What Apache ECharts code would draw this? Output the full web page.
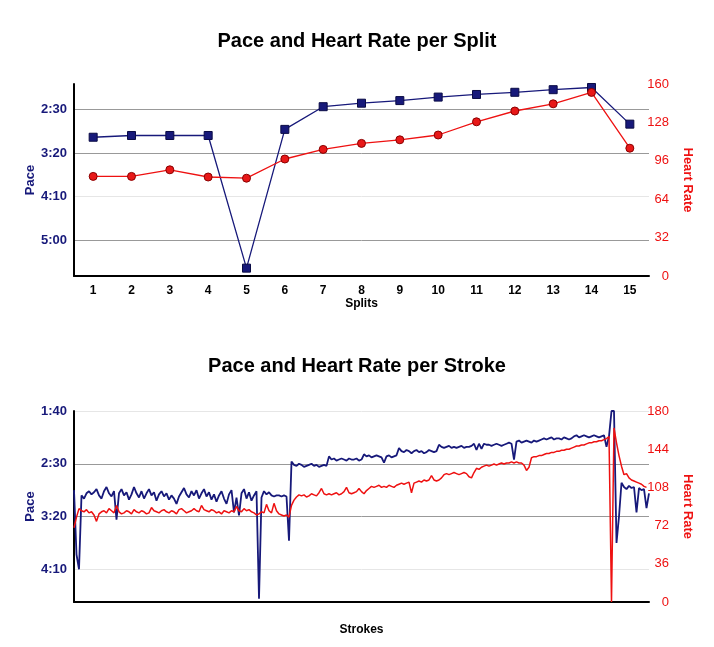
<!DOCTYPE html>
<html>
<head>
<meta charset="utf-8">
<script src="https://cdn.jsdelivr.net/npm/echarts@6/dist/echarts.min.js"></script>
<style>
html,body{margin:0;padding:0;background:#fff;}
#chart{width:714px;height:647px;}
</style>
</head>
<body>
<div id="chart"></div>
<script>
// ---- Split chart data ----
const splitLabels = ['1','2','3','4','5','6','7','8','9','10','11','12','13','14','15'];
// pace in seconds per 500m
const splitPace = [182,180,180,180,332,173,147,143,140,136,133,130.5,127.5,125,167];
const splitHR = [83,83,88.5,82.5,81.5,97.5,105.5,110.5,113.5,117.5,128.5,137.5,143.5,153,106.5];
const splitPaceTicks = [150,200,250,300];
const splitHRTicks = [0,32,64,96,128,160];

// ---- Stroke chart data ----
const strokePace = [
175,236,250,180,183,178,176,179,177,174,180,183,176,172,178,181,176,203,178,174,
180,177,184,179,172,178,182,176,183,178,174,180,177,185,179,176,181,178,184,180,
183,188,181,177,173,179,182,176,180,175,183,178,174,181,177,184,179,186,180,176,
183,188,179,175,196,182,199,178,174,183,177,185,180,176,278,182,176,179,177,180,
181,180,180,181,180,181,223,148,151,152,150,151,153,152,151,150,152,151,153,152,
151,152,143,146,145,147,146,145,146,147,145,146,146,145,147,146,141,143,142,144,
143,142,143,144,149,143,142,144,143,142,135,138,139,137,138,140,138,137,139,138,
140,139,137,138,139,138,132,134,135,134,133,135,134,135,134,133,135,134,134,133,
131,137,131,136,131,132,132,133,132,131,132,133,132,131,130,131,146,129,128,130,
129,128,129,130,128,129,128,127,126,127,126,125,127,126,126,127,125,126,127,126,
124,123,125,124,123,124,125,124,123,124,125,124,123,134,124,100,100,225,200,168,
172,174,171,173,172,196,173,175,174,192,178
];
const strokeHR = [
70,80,88,86,85,87,84,85,82,76,83,85,86,84,88,86,84,91,85,83,
84,86,85,83,87,85,84,86,85,83,84,89,86,85,84,86,87,85,84,86,
85,83,87,88,86,84,85,86,88,86,85,91,87,86,85,87,86,84,85,83,
86,85,84,86,85,90,86,85,88,86,87,85,84,82,83,85,84,92,86,84,
93,86,83,82,81,82,80,91,96,99,101,100,101,99,100,102,101,100,103,107,
102,101,102,101,102,103,101,102,104,108,103,102,103,104,107,104,102,105,107,109,
108,109,110,108,109,108,110,109,108,110,111,112,111,112,113,103,112,113,114,113,
115,114,115,119,115,114,115,117,120,121,120,121,122,121,120,121,122,121,118,117,
122,126,125,127,128,129,128,129,130,129,130,131,130,131,131,132,131,132,131,131,
129,124,127,136,137,137,138,138,139,140,140,141,141,142,142,143,143,144,144,145,
146,147,147,148,148,149,150,150,151,151,152,152,153,154,156,0,164,150,138,128,
120,121,117,115,114,113,112,111,109,108
];
const strokePaceTicks = [100,150,200,250];
const strokeHRTicks = [0,36,72,108,144,180];
const strokeIdx = strokePace.map((_, i) => String(i + 1));

const NAVY = '#17197a';
const RED = '#ee1111';
const FONT = 'Liberation Sans, Arial, Helvetica, sans-serif';

function fmtPace(v) {
  const m = Math.floor(v / 60);
  const s = Math.round(v - m * 60);
  return m + ':' + (s < 10 ? '0' + s : s);
}

const paceAxisCommon = {
  type: 'value',
  inverse: true,
  name: 'Pace',
  nameLocation: 'middle',
  nameGap: 37,
  nameMoveOverlap: false,
  nameTextStyle: { color: NAVY, fontWeight: 'bold', fontSize: 13, fontFamily: FONT },
  axisLine: { show: true, lineStyle: { color: '#000', width: 2 } },
  axisTick: { show: false },
  axisLabel: { color: NAVY, fontWeight: 'bold', fontSize: 13, fontFamily: FONT, margin: 7, formatter: fmtPace }
};
const hrAxisCommon = {
  type: 'value',
  position: 'right',
  name: 'Heart Rate',
  nameLocation: 'middle',
  nameRotate: -90,
  nameGap: 32,
  nameMoveOverlap: false,
  nameTextStyle: { color: RED, fontWeight: 'bold', fontSize: 13, fontFamily: FONT },
  axisLine: { show: false },
  axisTick: { show: false },
  splitLine: { show: false },
  axisLabel: { color: RED, fontSize: 13, fontFamily: FONT, align: 'right', margin: 20 }
};

const option = {
  backgroundColor: '#fff',
  animation: false,
  title: [
    { text: 'Pace and Heart Rate per Split', left: 'center', top: 26,
      textStyle: { fontSize: 20, fontWeight: 'bold', color: '#000', fontFamily: FONT } },
    { text: 'Pace and Heart Rate per Stroke', left: 'center', top: 351,
      textStyle: { fontSize: 20, fontWeight: 'bold', color: '#000', fontFamily: FONT } }
  ],
  grid: [
    { left: 74, right: 65, top: 84, height: 192 },
    { left: 74, right: 65, top: 411, height: 191 }
  ],
  xAxis: [
    { type: 'category', gridIndex: 0, data: splitLabels, boundaryGap: true,
      name: 'Splits', nameLocation: 'middle', nameGap: 22,
      nameTextStyle: { color: '#000', fontWeight: 'bold', fontSize: 12, fontFamily: FONT },
      axisLine: { lineStyle: { color: '#000', width: 2 } },
      axisTick: { show: false },
      axisLabel: { color: '#000', fontWeight: 'bold', fontSize: 12, fontFamily: FONT, margin: 9 } },
    { type: 'category', gridIndex: 1, data: strokeIdx, boundaryGap: false,
      name: 'Strokes', nameLocation: 'middle', nameGap: 22,
      nameTextStyle: { color: '#000', fontWeight: 'bold', fontSize: 12, fontFamily: FONT },
      axisLine: { lineStyle: { color: '#000', width: 2 } },
      axisTick: { show: false },
      axisLabel: { show: false } }
  ],
  yAxis: [
    Object.assign({}, paceAxisCommon, {
      gridIndex: 0, min: 121, max: 341,
      axisTick: { show: false, customValues: splitPaceTicks },
      axisLabel: Object.assign({}, paceAxisCommon.axisLabel, { customValues: splitPaceTicks }),
      splitLine: { show: true, lineStyle: { color: ['#999999', '#999999', '#e6e6e6', '#999999'], width: 1 } }
    }),
    Object.assign({}, hrAxisCommon, {
      gridIndex: 0, min: 0, max: 160, interval: 32
    }),
    Object.assign({}, paceAxisCommon, {
      gridIndex: 1, min: 100, max: 281,
      axisTick: { show: false, customValues: strokePaceTicks },
      axisLabel: Object.assign({}, paceAxisCommon.axisLabel, { customValues: strokePaceTicks }),
      splitLine: { show: true, lineStyle: { color: ['#e6e6e6', '#999999', '#999999', '#e6e6e6'], width: 1 } }
    }),
    Object.assign({}, hrAxisCommon, {
      gridIndex: 1, min: 0, max: 180, interval: 36
    })
  ],
  series: [
    { type: 'line', xAxisIndex: 0, yAxisIndex: 0, data: splitPace,
      symbol: 'rect', symbolSize: 8,
      lineStyle: { color: NAVY, width: 1.3 },
      itemStyle: { color: NAVY, borderColor: '#0a0b45', borderWidth: 1 } },
    { type: 'line', xAxisIndex: 0, yAxisIndex: 1, data: splitHR,
      symbol: 'circle', symbolSize: 8,
      lineStyle: { color: RED, width: 1.3 },
      itemStyle: { color: '#e81818', borderColor: '#8a0000', borderWidth: 1 } },
    { type: 'line', xAxisIndex: 1, yAxisIndex: 2, data: strokePace,
      showSymbol: false, symbol: 'none',
      lineStyle: { color: NAVY, width: 1.8 } },
    { type: 'line', xAxisIndex: 1, yAxisIndex: 3, data: strokeHR,
      showSymbol: false, symbol: 'none',
      lineStyle: { color: RED, width: 1.5 } }
  ]
};

const chart = echarts.init(document.getElementById('chart'), null, { renderer: 'canvas' });
chart.setOption(option);
</script>
</body>
</html>
